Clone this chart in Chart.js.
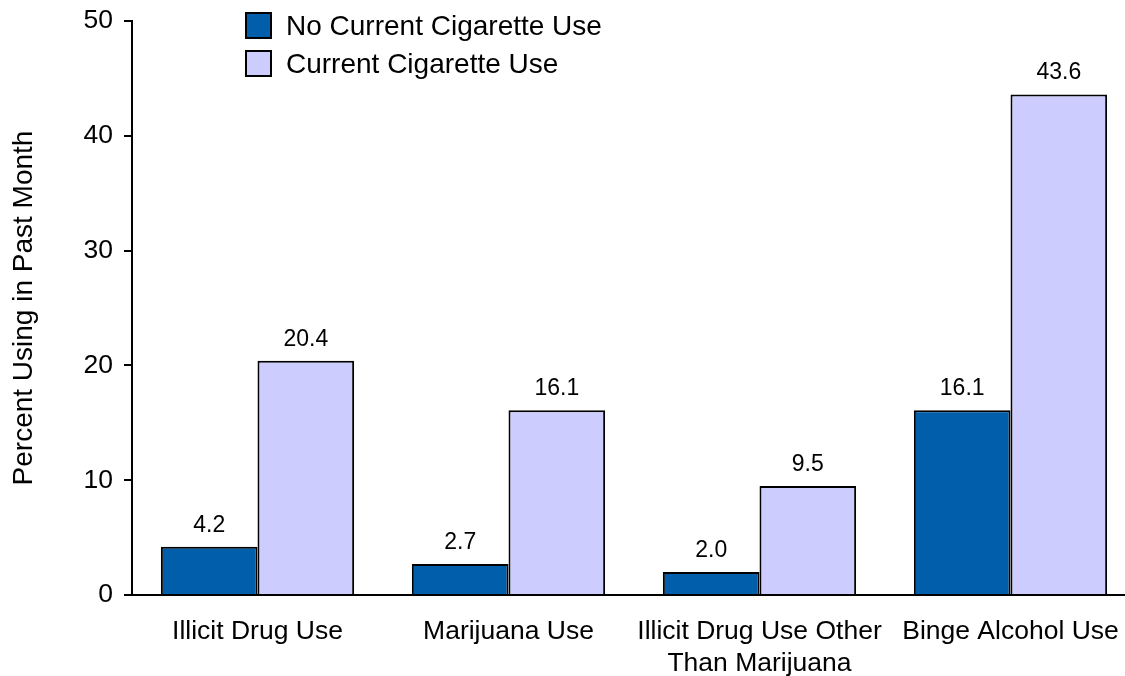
<!DOCTYPE html>
<html>
<head>
<meta charset="utf-8">
<script src="https://cdn.jsdelivr.net/npm/chart.js@4/dist/chart.umd.min.js"></script>
<style>
  html, body { margin: 0; padding: 0; overflow: hidden; background: #fff; }
  #wrap { width: 1140px; height: 676px; }
</style>
</head>
<body>
<div id="wrap"><canvas id="c" width="1140" height="676"></canvas></div>
<script>
// Past-month substance use by cigarette smoking status
const categories = [
  "Illicit Drug Use",
  "Marijuana Use",
  ["Illicit Drug Use Other", "Than Marijuana"],
  "Binge Alcohol Use"
];
const seriesNames = ["No Current Cigarette Use", "Current Cigarette Use"];
const noCurrentUse = [4.2, 2.7, 2.0, 16.1];
const currentUse = [20.4, 16.1, 9.5, 43.6];
const yTicks = [0, 10, 20, 30, 40, 50];
const seriesColors = ["#005EAA", "#CCCCFF"];

const FONT = "'Liberation Sans', Arial, Helvetica, sans-serif";

// Value labels above each bar
const valueLabels = {
  id: "valueLabels",
  afterDatasetsDraw(chart) {
    const ctx = chart.ctx;
    ctx.save();
    ctx.fillStyle = "#000";
    ctx.font = "23px " + FONT;
    ctx.textAlign = "center";
    ctx.textBaseline = "alphabetic";
    chart.data.datasets.forEach((ds, i) => {
      chart.getDatasetMeta(i).data.forEach((bar, j) => {
        ctx.fillText(ds.data[j].toFixed(1), bar.x, bar.y - 15);
      });
    });
    ctx.restore();
  }
};

// Stacked legend in the upper left of the plot
const boxLegend = {
  id: "boxLegend",
  afterDraw(chart) {
    const ctx = chart.ctx;
    ctx.save();
    ctx.font = "28px " + FONT;
    ctx.textBaseline = "middle";
    ctx.textAlign = "left";
    chart.data.datasets.forEach((ds, i) => {
      const y = 13 + i * 38;
      ctx.fillStyle = ds.backgroundColor;
      ctx.fillRect(246, y, 25, 25);
      ctx.lineWidth = 2;
      ctx.strokeStyle = "#000";
      ctx.strokeRect(246, y, 25, 25);
      ctx.fillStyle = "#000";
      ctx.fillText(ds.label, 286, y + 14);
    });
    ctx.restore();
  }
};

new Chart(document.getElementById("c"), {
  type: "bar",
  data: {
    labels: categories,
    datasets: [
      { label: seriesNames[0], data: noCurrentUse, backgroundColor: seriesColors[0],
        borderColor: "#000", borderWidth: 2, borderSkipped: "bottom" },
      { label: seriesNames[1], data: currentUse, backgroundColor: seriesColors[1],
        borderColor: "#000", borderWidth: 2, borderSkipped: "bottom" }
    ]
  },
  options: {
    responsive: false,
    animation: false,
    devicePixelRatio: 1,
    layout: { padding: { top: 21, right: 4, left: 0, bottom: 0 } },
    categoryPercentage: 0.77,
    barPercentage: 1.0,
    plugins: { legend: { display: false }, tooltip: { enabled: false } },
    scales: {
      x: {
        grid: { display: false, drawTicks: false },
        border: { display: true, color: "#000", width: 2 },
        ticks: { color: "#000", font: { family: FONT, size: 26.5 }, padding: 21, maxRotation: 0, autoSkip: false },
        afterFit(scale) { scale.height = 81; scale.paddingLeft = 0; scale.paddingRight = 0; }
      },
      y: {
        min: 0, max: 50,
        afterBuildTicks(scale) { scale.ticks = yTicks.map(v => ({ value: v })); },
        grid: { drawOnChartArea: false, drawTicks: true, tickLength: 8, color: "#000", lineWidth: 2 },
        border: { display: true, color: "#000", width: 2 },
        ticks: { color: "#000", font: { family: FONT, size: 26.5 }, padding: 11 },
        title: { display: true, text: "Percent Using in Past Month", color: "#000",
                 font: { family: FONT, size: 28 }, padding: { top: 7, bottom: 0 } },
        afterFit(scale) { scale.width = 132; scale.paddingTop = 0; scale.paddingBottom = 0; }
      }
    }
  },
  plugins: [valueLabels, boxLegend]
});
</script>
</body>
</html>
